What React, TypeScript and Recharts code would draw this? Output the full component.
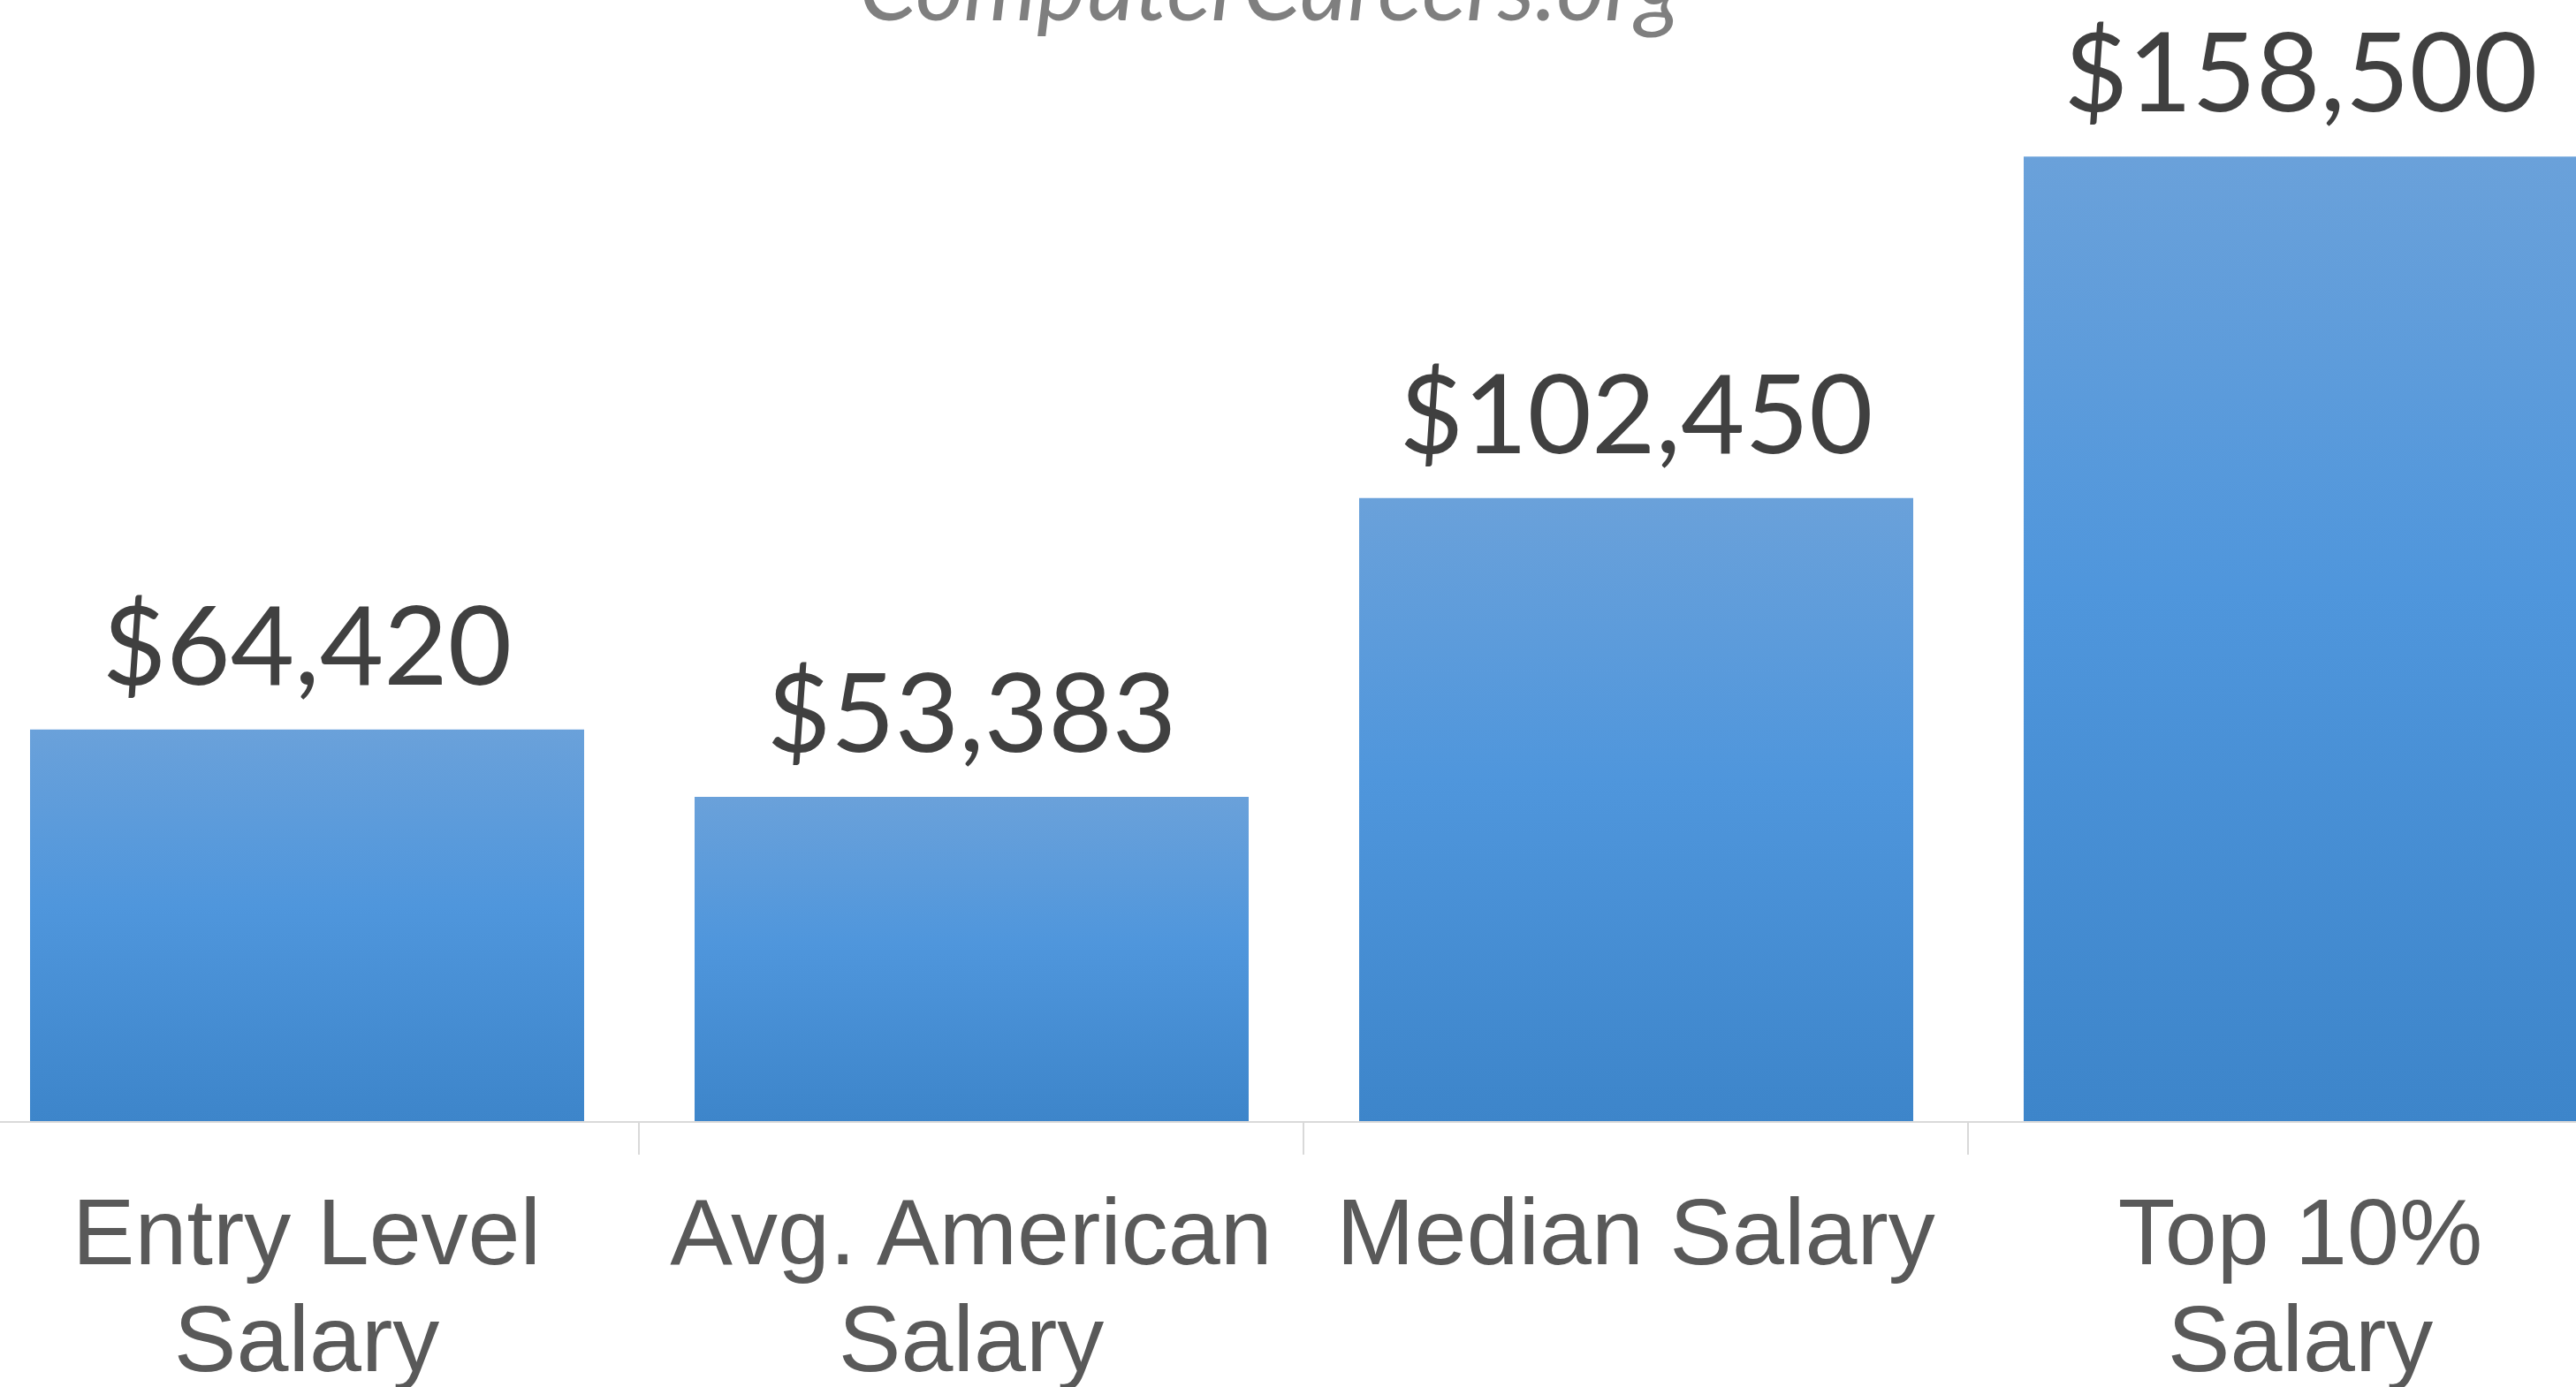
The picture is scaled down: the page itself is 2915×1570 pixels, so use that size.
import React from 'react';
import { BarChart, Bar, XAxis, YAxis, LabelList } from 'recharts';

const categories = ['Entry Level Salary', 'Avg. American Salary', 'Median Salary', 'Top 10% Salary'];
const salaries = [64420, 53383, 102450, 158500];
const tickLines = [['Entry Level', 'Salary'], ['Avg. American', 'Salary'], ['Median Salary'], ['Top 10%', 'Salary']];
const yDomain = [0, 180000];

const CHART_W = 3008;
const CHART_H = 1570;
const BAND = CHART_W / categories.length;

const chartData = categories.map((name, i) => ({ name, value: salaries[i], lines: tickLines[i] }));

const formatCurrency = (value: number) => `$${value.toLocaleString('en-US')}`;

const CategoryTick = ({ x, y, index }: any) => {
  const lines = tickLines[index] || [];
  return (
    <g>
      {index < categories.length - 1 && (
        <line x1={x + BAND / 2} y1={y} x2={x + BAND / 2} y2={y + 37} stroke="#d9d9d9" strokeWidth={2} />
      )}
      <text
        x={x}
        y={y}
        textAnchor="middle"
        fill="#595959"
        fontFamily="'Liberation Sans', Arial, sans-serif"
        fontSize={106}
      >
        {lines.map((line: string, i: number) => (
          <tspan key={i} x={x} y={y + 161 + i * 121}>
            {line}
          </tspan>
        ))}
      </text>
    </g>
  );
};

const ValueLabel = ({ x, y, width, value }: any) => (
  <text
    x={x + width / 2}
    y={y - 51}
    textAnchor="middle"
    fill="#404040"
    fontFamily="Lato, 'Open Sans', sans-serif"
    fontSize={125}
  >
    {formatCurrency(value)}
  </text>
);

export default function App() {
  return (
    <div
      style={{
        position: 'fixed',
        left: 0,
        top: 0,
        width: 2915,
        height: 1570,
        overflow: 'hidden',
        background: '#ffffff',
      }}
    >
      <svg width={2915} height={120} style={{ position: 'absolute', left: 0, top: 0 }}>
        <text
          x={1437}
          y={23}
          textAnchor="middle"
          fill="#7f7f7f"
          fontFamily="Lato, 'Open Sans', sans-serif"
          fontStyle="italic"
          fontSize={105}
        >
          ComputerCareers.org
        </text>
      </svg>
      <BarChart
        width={CHART_W}
        height={CHART_H}
        data={chartData}
        margin={{ top: 29, right: 0, bottom: 0, left: 0 }}
        style={{ position: 'absolute', left: -29, top: 0 }}
      >
        <defs>
          <linearGradient id="barFill" x1="0" y1="0" x2="0" y2="1">
            <stop offset="0%" stopColor="#6aa1da" />
            <stop offset="45%" stopColor="#4f96dc" />
            <stop offset="100%" stopColor="#3d85ca" />
          </linearGradient>
        </defs>
        <XAxis
          dataKey="name"
          height={300}
          axisLine={{ stroke: '#d9d9d9', strokeWidth: 2 }}
          tickLine={false}
          tickSize={0}
          tickMargin={0}
          interval={0}
          tick={<CategoryTick />}
        />
        <YAxis hide domain={yDomain} />
        <Bar dataKey="value" fill="url(#barFill)" barSize={627} isAnimationActive={false}>
          <LabelList dataKey="value" content={<ValueLabel />} />
        </Bar>
      </BarChart>
    </div>
  );
}
